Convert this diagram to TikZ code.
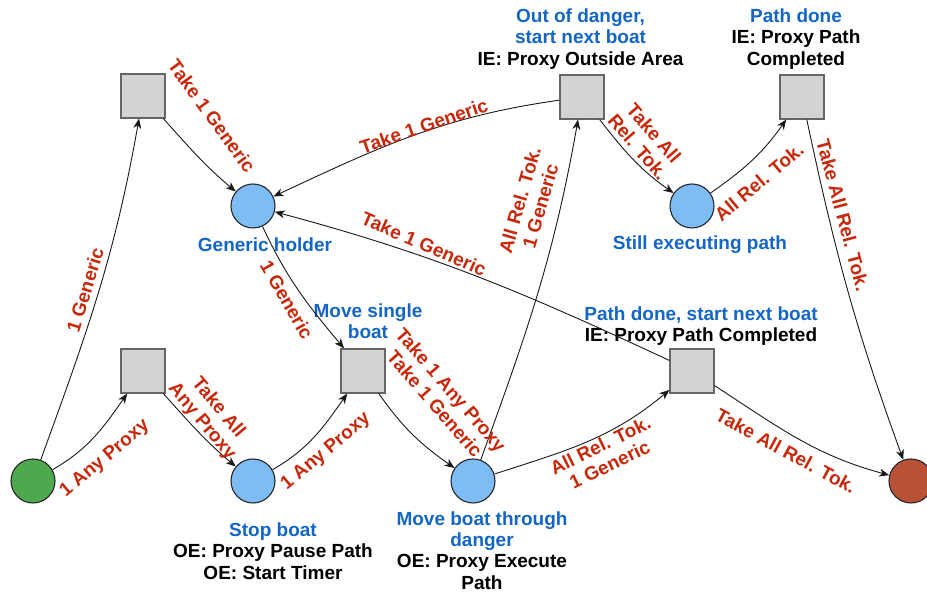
\documentclass[tikz,border=0pt]{standalone}
\usepackage{fontspec}
\setmainfont{Liberation Sans}
\usetikzlibrary{arrows.meta}
\definecolor{startgreen}{HTML}{4EA84E}
\definecolor{placeblue}{HTML}{7EBCF6}
\definecolor{endred}{HTML}{B95137}
\definecolor{transgrey}{HTML}{D3D3D3}
\definecolor{titleblue}{HTML}{1466C6}
\definecolor{tokred}{HTML}{C8280A}

\begin{document}
\begin{tikzpicture}[
  x=1pt,y=1pt,font=\fontsize{19}{21.3}\selectfont\bfseries,
  place/.style={circle,draw=black!85,line width=1.1pt,minimum size=44pt,inner sep=0pt},
  trans/.style={rectangle,draw=black!60,fill=transgrey,line width=1.1pt,minimum size=44pt,inner sep=0pt},
  txt/.style={align=center,inner sep=0pt},
  tok/.style={text=tokred,align=center,inner sep=0pt},
  arc/.style={-{Stealth[length=10pt,width=8pt,inset=3pt]},line width=0.9pt,draw=black!90}
]
\useasboundingbox (0,0) rectangle (927,593);
% places and transitions
\node[place,fill=startgreen] (start) at (33,112) {};
\node[trans] (tone)  at (143,497) {};
\node[trans] (tstop) at (143,222) {};
\node[place,fill=placeblue] (holder) at (253,387) {};
\node[place,fill=placeblue] (stop)   at (253,112) {};
\node[trans] (tsingle) at (363,222) {};
\node[place,fill=placeblue] (danger) at (473,112) {};
\node[trans] (tout)  at (582,496) {};
\node[place,fill=placeblue] (exec)   at (692,387) {};
\node[trans] (tnext) at (692,222) {};
\node[trans] (tdone) at (802,496) {};
\node[place,fill=endred] (finish) at (911,112) {};
% place and transition texts
\node[txt] (holdertxt) at (265,348) {\color{titleblue}Generic holder};
\node[txt] (stoptxt) at (273,42) {\color{titleblue}Stop boat\\OE: Proxy Pause Path\\OE: Start Timer};
\node[txt] (singletxt) at (368,271.5) {\color{titleblue}Move single\\\color{titleblue}boat};
\node[txt] (dangertxt) at (482,42.5) {\color{titleblue}Move boat through\\\color{titleblue}danger\\OE: Proxy Execute\\Path};
\node[txt] (outtxt) at (580.5,554) {\color{titleblue}Out of danger,\\\color{titleblue}start next boat\\IE: Proxy Outside Area};
\node[txt] (donetxt) at (796,554) {\color{titleblue}Path done\\IE: Proxy Path\\Completed};
\node[txt] (exectxt) at (700,348) {\color{titleblue}Still executing path};
\node[txt] (nexttxt) at (701,267) {\color{titleblue}Path done, start next boat\\IE: Proxy Path Completed};
% arcs
\draw[arc] (start) to[out=70,in=-100] (tone);
\draw[arc] (start) to[out=30,in=-125] (tstop);
\draw[arc] (tone) to[out=-48,in=140] (holder);
\draw[arc] (tstop) to[out=-48,in=140] (stop);
\draw[arc] (stop) to[out=30,in=-125] (tsingle);
\draw[arc] (holder) to[out=-65,in=130] (tsingle);
\draw[arc] (tsingle) to[out=-55,in=145] (danger);
\draw[arc] (danger) to[out=70,in=-100] (tout);
\draw[arc] (danger) to[out=18,in=-140] (tnext);
\draw[arc] (tout) to[out=188,in=25] (holder);
\draw[arc] (tnext) to[out=155,in=-15] (holder);
\draw[arc] (tout) to[out=-52,in=145] (exec);
\draw[arc] (exec) to[out=35,in=-125] (tdone);
\draw[arc] (tdone) to[out=-78,in=110] (finish);
\draw[arc] (tnext) to[out=-33,in=165] (finish);
% token labels
\node[tok,rotate=73] (lone) at (85,303) {1 Generic};
\node[tok,rotate=40] (lanyone) at (105,134) {1 Any Proxy};
\node[tok,rotate=-54] (ltakeone) at (212,477) {Take 1 Generic};
\node[tok,rotate=-50] (ltakeall) at (210,178) {Take All\\Any Proxy};
\node[tok,rotate=40] (lanytwo) at (326,141) {1 Any Proxy};
\node[tok,rotate=-60] (lgeneric) at (287,293) {1 Generic};
\node[tok,rotate=-49] (lsingle) at (443,196) {Take 1 Any Proxy\\Take 1 Generic};
\node[tok,rotate=74] (lout) at (530,390) {All Rel. Tok.\\1 Generic};
\node[tok,rotate=26] (lnext) at (605,138) {All Rel. Tok.\\1 Generic};
\node[tok,rotate=19] (lback) at (424,467) {Take 1 Generic};
\node[tok,rotate=-23.5] (lbacktwo) at (424,349) {Take 1 Generic};
\node[tok,rotate=-49] (lexec) at (646,453) {Take All\\Rel. Tok.};
\node[tok,rotate=40] (ldone) at (759,411) {All Rel. Tok.};
\node[tok,rotate=-75] (lfinish) at (843,378) {Take All Rel. Tok.};
\node[tok,rotate=-28.5] (lfinishtwo) at (786,142) {Take All Rel. Tok.};
\end{tikzpicture}
\end{document}
